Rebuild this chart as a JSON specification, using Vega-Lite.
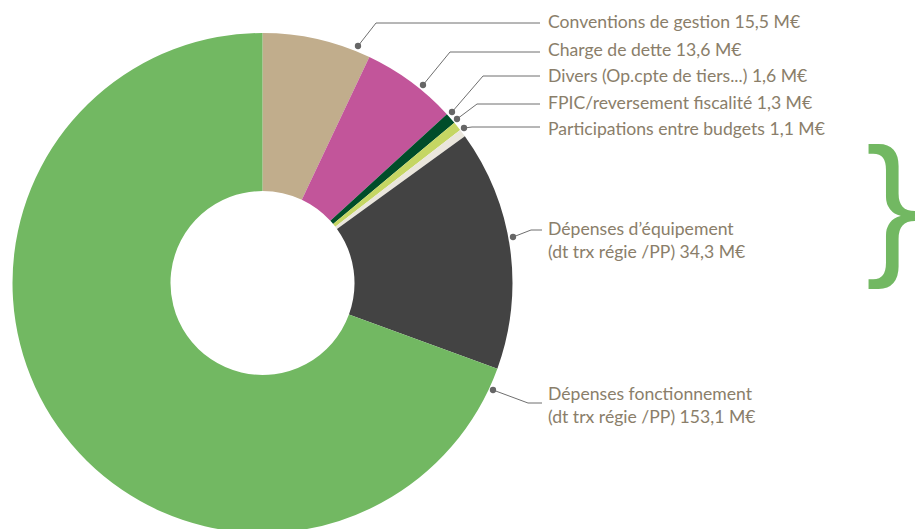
{
  "$schema": "https://vega.github.io/schema/vega-lite/v6.json",
  "width": 916,
  "height": 529,
  "autosize": {"type": "none"},
  "padding": 0,
  "background": "white",
  "config": {"view": {"stroke": null}},
  "datasets": {
    "slices": [
      {"name": "Conventions de gestion", "value": 15.5, "order": 1},
      {"name": "Charge de dette", "value": 13.6, "order": 2},
      {"name": "Divers", "value": 1.6, "order": 3},
      {"name": "FPIC", "value": 1.3, "order": 4},
      {"name": "Participations", "value": 1.1, "order": 5},
      {"name": "Équipement", "value": 34.3, "order": 6},
      {"name": "Fonctionnement", "value": 153.1, "order": 7}
    ],
    "labels": [
      {"label": "Conventions de gestion 15,5 M€", "lx": 548, "ly": 28},
      {"label": "Charge de dette 13,6 M€", "lx": 548, "ly": 55.5},
      {"label": "Divers (Op.cpte de tiers...) 1,6 M€", "lx": 548, "ly": 82},
      {"label": "FPIC/reversement fiscalité 1,3 M€", "lx": 548, "ly": 108.5},
      {"label": "Participations entre budgets 1,1 M€", "lx": 548, "ly": 135},
      {"label": "Dépenses d’équipement\n(dt trx régie /PP) 34,3 M€", "lx": 548, "ly": 235},
      {"label": "Dépenses fonctionnement\n(dt trx régie /PP) 153,1 M€", "lx": 548, "ly": 400}
    ],
    "leaders": [
      {"id": 1, "seq": 1, "px": 358, "py": 46},
      {"id": 1, "seq": 2, "px": 376, "py": 23},
      {"id": 1, "seq": 3, "px": 540, "py": 23},
      {"id": 2, "seq": 1, "px": 423, "py": 85},
      {"id": 2, "seq": 2, "px": 450, "py": 52},
      {"id": 2, "seq": 3, "px": 540, "py": 52},
      {"id": 3, "seq": 1, "px": 452, "py": 112},
      {"id": 3, "seq": 2, "px": 483, "py": 76},
      {"id": 3, "seq": 3, "px": 540, "py": 76},
      {"id": 4, "seq": 1, "px": 457, "py": 119},
      {"id": 4, "seq": 2, "px": 477, "py": 104},
      {"id": 4, "seq": 3, "px": 540, "py": 104},
      {"id": 5, "seq": 1, "px": 464, "py": 128},
      {"id": 5, "seq": 2, "px": 472, "py": 127},
      {"id": 5, "seq": 3, "px": 540, "py": 127},
      {"id": 6, "seq": 1, "px": 513, "py": 237},
      {"id": 6, "seq": 2, "px": 531, "py": 230},
      {"id": 6, "seq": 3, "px": 542, "py": 230},
      {"id": 7, "seq": 1, "px": 493, "py": 390},
      {"id": 7, "seq": 2, "px": 528, "py": 403},
      {"id": 7, "seq": 3, "px": 542, "py": 403}
    ],
    "brace": [{"t": "}", "bx": 892, "by": 257}]
  },
  "layer": [
    {
      "data": {"name": "slices"},
      "mark": {"type": "arc", "radius": 250, "radius2": 92},
      "encoding": {
        "theta": {"field": "value", "type": "quantitative", "stack": true},
        "order": {"field": "order", "type": "quantitative"},
        "color": {
          "field": "name",
          "type": "nominal",
          "scale": {
            "domain": ["Conventions de gestion", "Charge de dette", "Divers", "FPIC", "Participations", "Équipement", "Fonctionnement"],
            "range": ["#C1AD8C", "#C2559A", "#004D2A", "#C5D663", "#EAE6DC", "#434343", "#72B862"]
          },
          "legend": null
        },
        "x": {"datum": 262.5, "type": "quantitative", "scale": {"domain": [0, 916], "nice": false, "zero": false}, "axis": null},
        "y": {"datum": 283, "type": "quantitative", "scale": {"domain": [0, 529], "nice": false, "zero": false, "reverse": true}, "axis": null}
      }
    },
    {
      "data": {"name": "leaders"},
      "mark": {"type": "line", "color": "#6f6f6f", "strokeWidth": 1},
      "encoding": {
        "x": {"field": "px", "type": "quantitative"},
        "y": {"field": "py", "type": "quantitative"},
        "detail": {"field": "id"},
        "order": {"field": "seq", "type": "quantitative"}
      }
    },
    {
      "data": {"name": "leaders"},
      "transform": [{"filter": "datum.seq == 1"}],
      "mark": {"type": "point", "filled": true, "color": "#666666", "size": 40, "opacity": 1},
      "encoding": {
        "x": {"field": "px", "type": "quantitative"},
        "y": {"field": "py", "type": "quantitative"}
      }
    },
    {
      "data": {"name": "labels"},
      "mark": {"type": "text", "align": "left", "baseline": "alphabetic", "font": "Lato", "fontSize": 17.6, "color": "#8a7e6a", "lineBreak": "\n", "lineHeight": 23},
      "encoding": {
        "x": {"field": "lx", "type": "quantitative"},
        "y": {"field": "ly", "type": "quantitative"},
        "text": {"field": "label"}
      }
    },
    {
      "data": {"name": "brace"},
      "mark": {"type": "text", "align": "center", "baseline": "alphabetic", "font": "Liberation Sans", "fontSize": 155, "color": "#72B862"},
      "encoding": {
        "x": {"field": "bx", "type": "quantitative"},
        "y": {"field": "by", "type": "quantitative"},
        "text": {"field": "t"}
      }
    }
  ]
}
